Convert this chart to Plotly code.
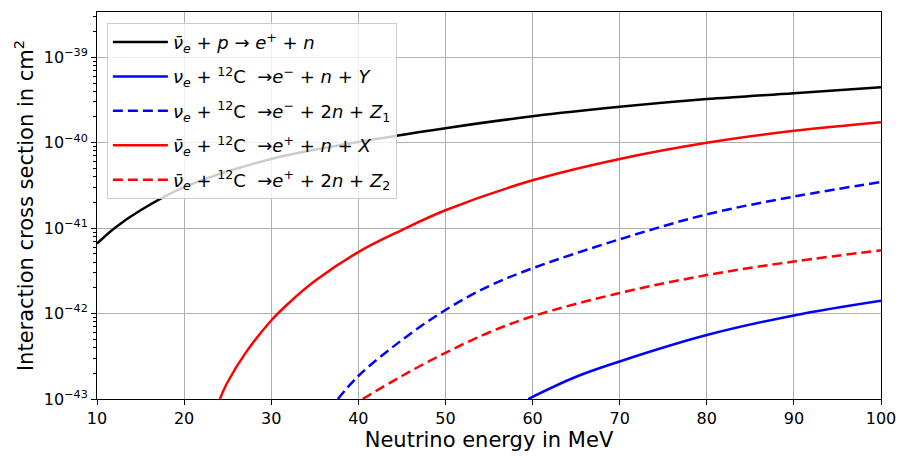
import plotly.graph_objects as go

# Neutrino energy (MeV) and cross sections (cm^2)
E_ibd = [10, 12, 15, 20, 30, 40, 50, 60, 70, 80, 90, 100]
xs_ibd = [6.6e-42, 1.0e-41, 1.62e-41, 3.02e-41, 6.46e-41, 1.02e-40, 1.48e-40,
          2.04e-40, 2.63e-40, 3.24e-40, 3.80e-40, 4.47e-40]

E_nue_n = [59.5, 65, 70, 80, 90, 100]
xs_nue_n = [1.0e-43, 1.82e-43, 2.75e-43, 5.6e-43, 9.5e-43, 1.41e-42]

E_nue_2n = [37.65, 40, 45, 50, 55, 60, 70, 80, 90, 100]
xs_nue_2n = [1.0e-43, 1.86e-43, 4.9e-43, 1.10e-42, 2.1e-42, 3.39e-42, 7.4e-42,
             1.45e-41, 2.34e-41, 3.47e-41]

E_nuebar_n = [24.1, 25, 27, 30, 32, 35, 40, 45, 50, 60, 70, 80, 90, 100]
xs_nuebar_n = [1.0e-43, 1.58e-43, 3.4e-43, 8.3e-43, 1.32e-42, 2.4e-42, 5.25e-42,
               9.5e-42, 1.62e-41, 3.63e-41, 6.46e-41, 1.0e-40, 1.38e-40, 1.74e-40]

E_nuebar_2n = [40.5, 45, 50, 55, 60, 70, 80, 90, 100]
xs_nuebar_2n = [1.0e-43, 1.86e-43, 3.47e-43, 6.0e-43, 9.3e-43, 1.74e-42, 2.82e-42,
                4.07e-42, 5.5e-42]

names = [
    "<i>ν̄<sub>e</sub></i> + <i>p</i> → <i>e</i><sup>+</sup> + <i>n</i>",
    "<i>ν<sub>e</sub></i> + <sup>12</sup>C  →<i>e</i><sup>−</sup> + <i>n</i> + <i>Y</i>",
    "<i>ν<sub>e</sub></i> + <sup>12</sup>C  →<i>e</i><sup>−</sup> + 2<i>n</i> + <i>Z</i><sub>1</sub>",
    "<i>ν̄<sub>e</sub></i> + <sup>12</sup>C  →<i>e</i><sup>+</sup> + <i>n</i> + <i>X</i>",
    "<i>ν̄<sub>e</sub></i> + <sup>12</sup>C  →<i>e</i><sup>+</sup> + 2<i>n</i> + <i>Z</i><sub>2</sub>",
]

y_tickvals = [1e-43, 1e-42, 1e-41, 1e-40, 1e-39]
y_ticktext = ["10<sup>−43</sup>", "10<sup>−42</sup>", "10<sup>−41</sup>",
              "10<sup>−40</sup>", "10<sup>−39</sup>"]
x_tickvals = [10, 20, 30, 40, 50, 60, 70, 80, 90, 100]

series = [
    (E_ibd, xs_ibd, "black", "solid"),
    (E_nue_n, xs_nue_n, "#0000ff", "solid"),
    (E_nue_2n, xs_nue_2n, "#0000ff", "10px,5px"),
    (E_nuebar_n, xs_nuebar_n, "#ff0000", "solid"),
    (E_nuebar_2n, xs_nuebar_2n, "#ff0000", "10px,5px"),
]

fig = go.Figure()
for i, ((x, y, c, d), nm) in enumerate(zip(series, names)):
    fig.add_trace(go.Scatter(x=x, y=y, mode="lines", name=nm, legendgroup=f"g{i}",
                             line=dict(color=c, width=2.5, dash=d, shape="spline", smoothing=1.0),
                             cliponaxis=True))

font = "DejaVu Sans"
fig.update_layout(
    width=907, height=458,
    margin=dict(l=97, r=17, t=11, b=54),
    paper_bgcolor="white", plot_bgcolor="white",
    font=dict(family=font, size=16, color="black"),
    showlegend=True,
    legend=dict(x=0.0126, y=0.972, xanchor="left", yanchor="top",
                bgcolor="rgba(255,255,255,0.8)", bordercolor="#cccccc", borderwidth=1,
                font=dict(family=font, size=18, color="black"), tracegroupgap=8,
                itemwidth=55),
)
fig.update_xaxes(
    range=[10, 100], tickvals=x_tickvals,
    showgrid=True, gridcolor="#b0b0b0", gridwidth=1,
    showline=True, linecolor="black", linewidth=1, mirror=True,
    ticks="outside", ticklen=5, tickcolor="black",
    title=dict(text="Neutrino energy in MeV", font=dict(family=font, size=21), standoff=4),
    zeroline=False,
)
fig.update_yaxes(
    type="log", range=[-43, -38.47],
    tickvals=y_tickvals, ticktext=y_ticktext,
    showgrid=True, gridcolor="#b0b0b0", gridwidth=1,
    showline=True, linecolor="black", linewidth=1, mirror=True,
    ticks="outside", ticklen=5, tickcolor="black",
    minor=dict(ticks="outside", ticklen=3, tickcolor="black", showgrid=False, dtick="D1"),
    title=dict(text="Interaction cross section in cm<sup>2</sup>", font=dict(family=font, size=21), standoff=4),
    zeroline=False,
)

fig.write_html("out.html")
